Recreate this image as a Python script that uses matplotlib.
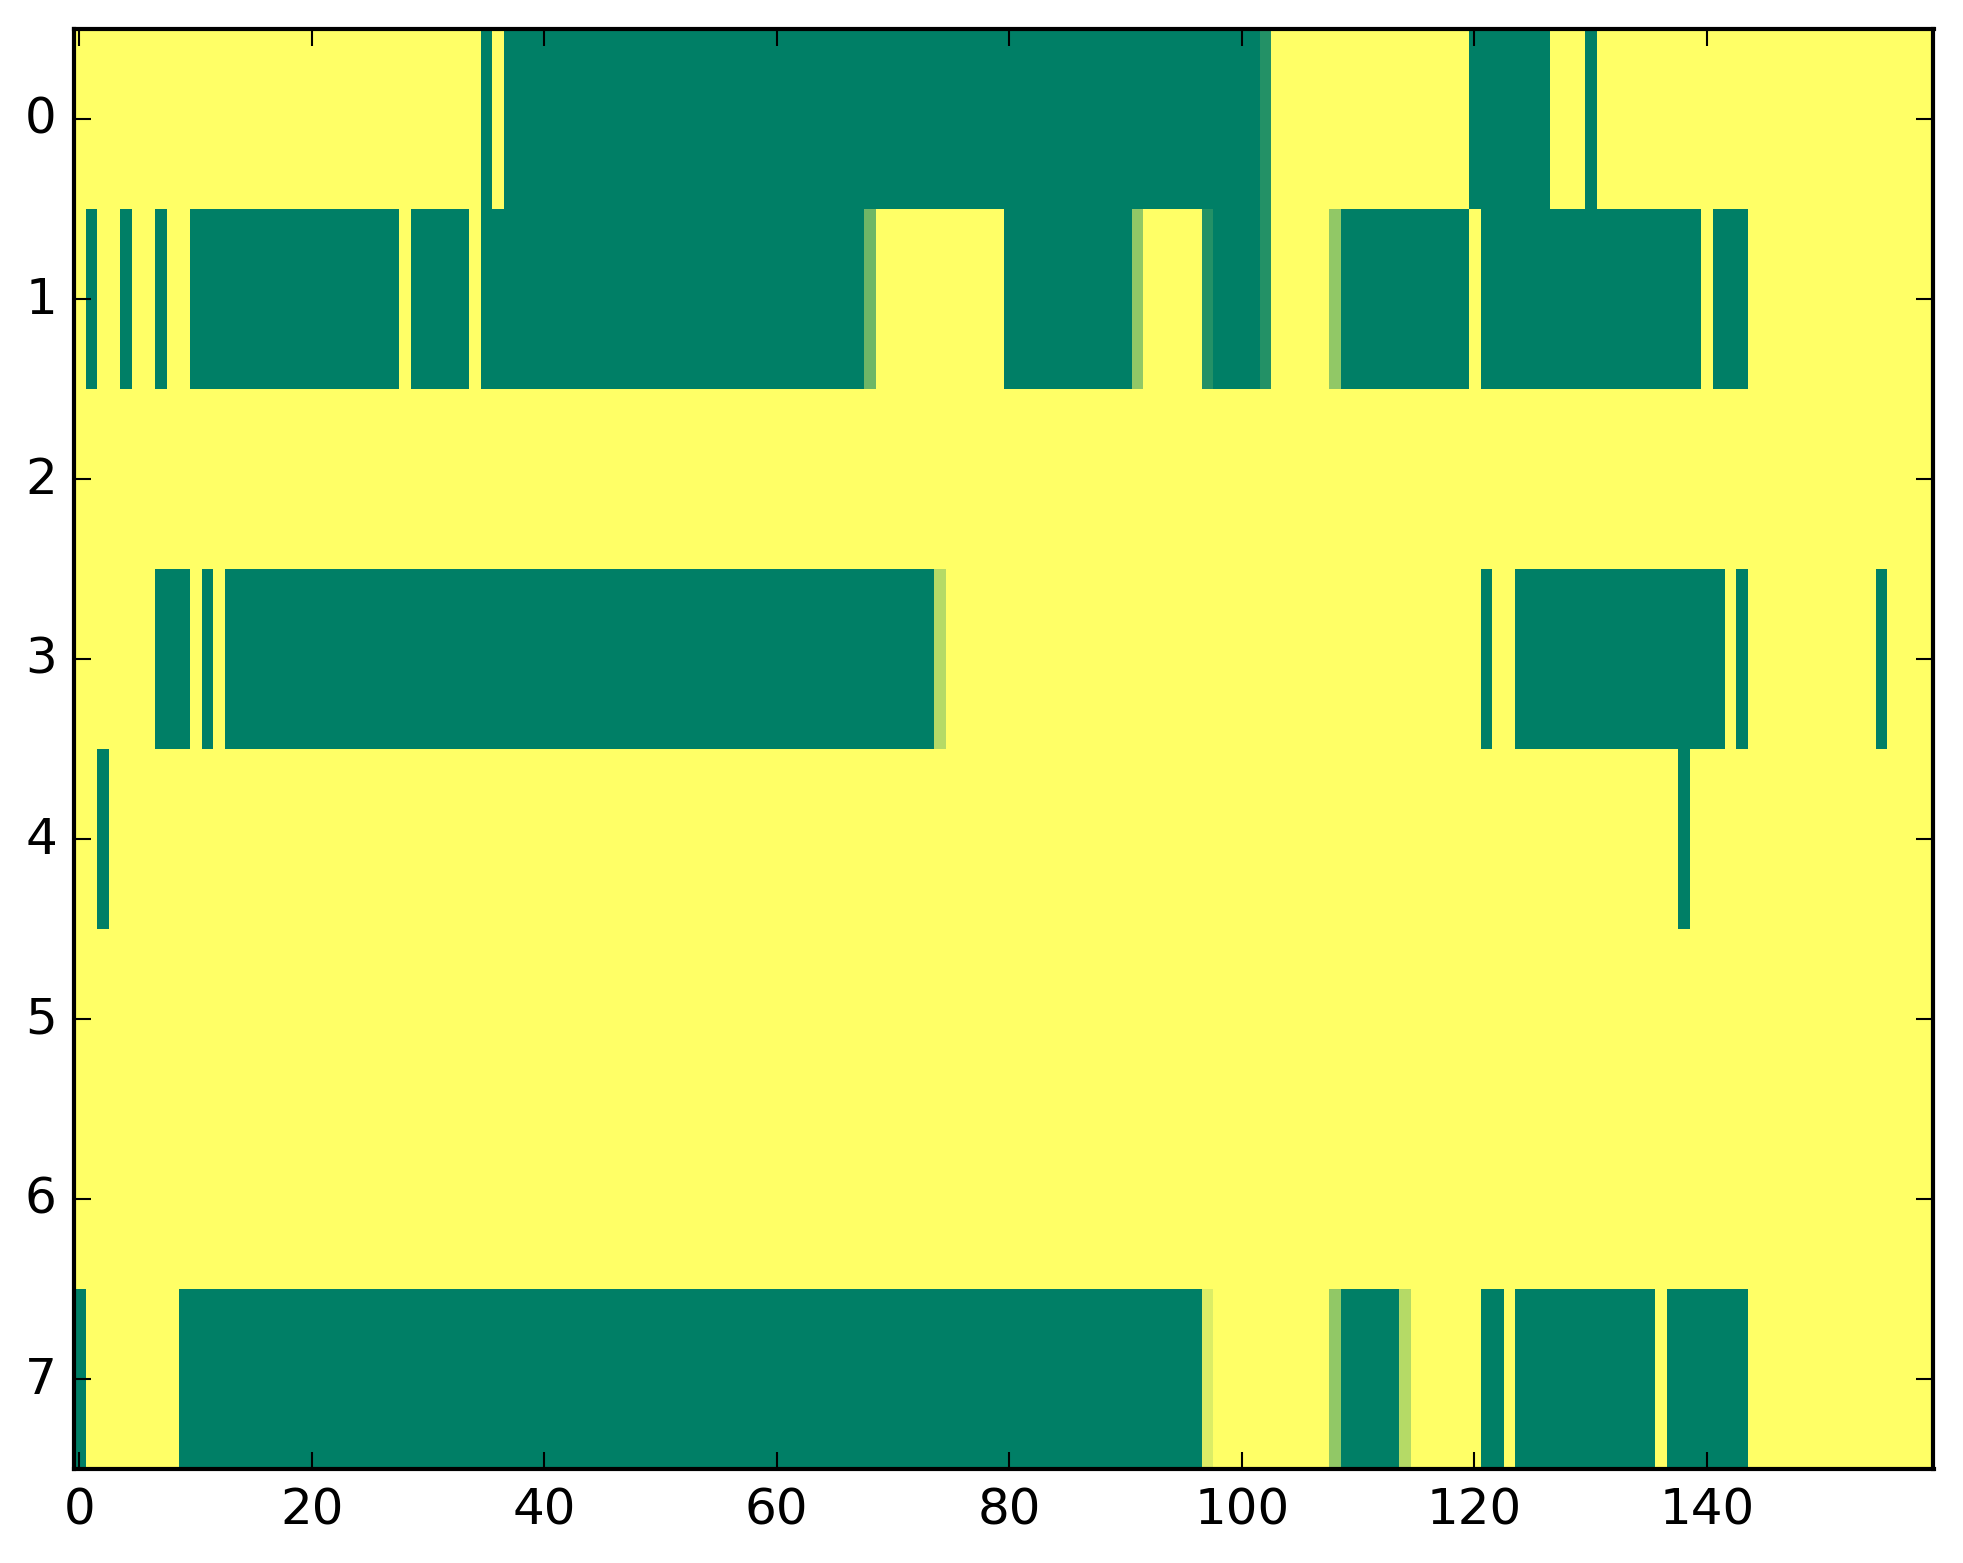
import numpy as np
import matplotlib
matplotlib.use("Agg")
import matplotlib.pyplot as plt

n_rows = 8
n_cols = 160

# runs of low values per row: (first col, last col, value); everything else is 1.0
row_runs = {
    0: [(35, 35, 0.0), (37, 101, 0.0), (102, 102, 0.14), (120, 126, 0.0), (130, 130, 0.0)],
    1: [(1, 1, 0.0), (4, 4, 0.0), (7, 7, 0.0), (10, 27, 0.0), (29, 33, 0.0),
        (35, 67, 0.0), (68, 68, 0.43), (80, 90, 0.0), (91, 91, 0.57),
        (97, 97, 0.14), (98, 101, 0.0), (102, 102, 0.14), (108, 108, 0.57),
        (109, 119, 0.0), (121, 139, 0.0), (141, 143, 0.0)],
    2: [],
    3: [(7, 9, 0.0), (11, 11, 0.0), (13, 73, 0.0), (74, 74, 0.71),
        (121, 121, 0.0), (124, 141, 0.0), (143, 143, 0.0), (155, 155, 0.0)],
    4: [(2, 2, 0.0), (138, 138, 0.0)],
    5: [],
    6: [],
    7: [(0, 0, 0.0), (9, 96, 0.0), (97, 97, 0.86), (108, 108, 0.57),
        (109, 113, 0.0), (114, 114, 0.71), (121, 122, 0.0), (124, 135, 0.0),
        (137, 143, 0.0)],
}

data = np.ones((n_rows, n_cols))
for r, runs in row_runs.items():
    for a, b, v in runs:
        data[r, a:b + 1] = v

plt.style.use("classic")

W, H, dpi = 1963, 1564, 300
fig = plt.figure(figsize=(W / dpi, H / dpi), dpi=dpi)
ax = fig.add_axes([73.5 / W, (H - 1470) / H, 1860 / W, 1440 / H])
ax.imshow(data, cmap="summer", interpolation="nearest", aspect="auto")

fig.savefig("out.png", dpi=dpi)
